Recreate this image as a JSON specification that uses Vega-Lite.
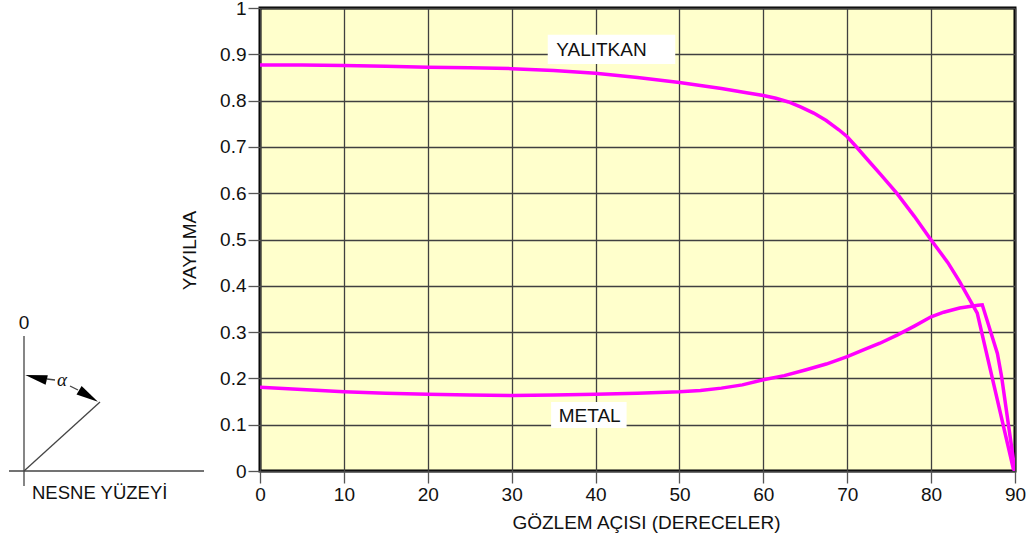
{
  "$schema": "https://vega.github.io/schema/vega-lite/v6.json",
  "padding": {"left": 0, "top": -3, "right": 0, "bottom": 0},
  "background": "white",
  "config": {"font": "Liberation Sans", "view": {"stroke": null}},
  "spacing": 50,
  "bounds": "flush",
  "datasets": {
    "egriler": [
      {"seri": "YALITKAN", "aci": 0, "yayilma": 0.877},
      {"seri": "YALITKAN", "aci": 5, "yayilma": 0.877},
      {"seri": "YALITKAN", "aci": 10, "yayilma": 0.876},
      {"seri": "YALITKAN", "aci": 15, "yayilma": 0.874},
      {"seri": "YALITKAN", "aci": 20, "yayilma": 0.872},
      {"seri": "YALITKAN", "aci": 25, "yayilma": 0.871},
      {"seri": "YALITKAN", "aci": 30, "yayilma": 0.869},
      {"seri": "YALITKAN", "aci": 35, "yayilma": 0.865},
      {"seri": "YALITKAN", "aci": 40, "yayilma": 0.859},
      {"seri": "YALITKAN", "aci": 45, "yayilma": 0.85},
      {"seri": "YALITKAN", "aci": 50, "yayilma": 0.839},
      {"seri": "YALITKAN", "aci": 55, "yayilma": 0.826},
      {"seri": "YALITKAN", "aci": 58, "yayilma": 0.817},
      {"seri": "YALITKAN", "aci": 60, "yayilma": 0.811},
      {"seri": "YALITKAN", "aci": 61.5, "yayilma": 0.805},
      {"seri": "YALITKAN", "aci": 63, "yayilma": 0.797},
      {"seri": "YALITKAN", "aci": 64.5, "yayilma": 0.786},
      {"seri": "YALITKAN", "aci": 66, "yayilma": 0.773},
      {"seri": "YALITKAN", "aci": 67.5, "yayilma": 0.757},
      {"seri": "YALITKAN", "aci": 69, "yayilma": 0.737},
      {"seri": "YALITKAN", "aci": 70, "yayilma": 0.722},
      {"seri": "YALITKAN", "aci": 71, "yayilma": 0.702},
      {"seri": "YALITKAN", "aci": 72.3, "yayilma": 0.675},
      {"seri": "YALITKAN", "aci": 74, "yayilma": 0.64},
      {"seri": "YALITKAN", "aci": 75.9, "yayilma": 0.6},
      {"seri": "YALITKAN", "aci": 78, "yayilma": 0.55},
      {"seri": "YALITKAN", "aci": 80, "yayilma": 0.499},
      {"seri": "YALITKAN", "aci": 82, "yayilma": 0.45},
      {"seri": "YALITKAN", "aci": 83.4, "yayilma": 0.409},
      {"seri": "YALITKAN", "aci": 85.5, "yayilma": 0.341},
      {"seri": "YALITKAN", "aci": 89.8, "yayilma": 0.005},
      {"seri": "YALITKAN", "aci": 90, "yayilma": 0},
      {"seri": "METAL", "aci": 0, "yayilma": 0.181},
      {"seri": "METAL", "aci": 5, "yayilma": 0.176},
      {"seri": "METAL", "aci": 10, "yayilma": 0.171},
      {"seri": "METAL", "aci": 15, "yayilma": 0.168},
      {"seri": "METAL", "aci": 20, "yayilma": 0.166},
      {"seri": "METAL", "aci": 25, "yayilma": 0.164},
      {"seri": "METAL", "aci": 30, "yayilma": 0.163},
      {"seri": "METAL", "aci": 35, "yayilma": 0.164},
      {"seri": "METAL", "aci": 40, "yayilma": 0.166},
      {"seri": "METAL", "aci": 45, "yayilma": 0.168},
      {"seri": "METAL", "aci": 50, "yayilma": 0.171},
      {"seri": "METAL", "aci": 52.5, "yayilma": 0.174},
      {"seri": "METAL", "aci": 55, "yayilma": 0.179},
      {"seri": "METAL", "aci": 57.5, "yayilma": 0.186},
      {"seri": "METAL", "aci": 60, "yayilma": 0.197},
      {"seri": "METAL", "aci": 62.5, "yayilma": 0.206},
      {"seri": "METAL", "aci": 65, "yayilma": 0.218},
      {"seri": "METAL", "aci": 67.5, "yayilma": 0.231},
      {"seri": "METAL", "aci": 70, "yayilma": 0.247},
      {"seri": "METAL", "aci": 72, "yayilma": 0.262},
      {"seri": "METAL", "aci": 73.9, "yayilma": 0.276},
      {"seri": "METAL", "aci": 76, "yayilma": 0.294},
      {"seri": "METAL", "aci": 78, "yayilma": 0.313},
      {"seri": "METAL", "aci": 80, "yayilma": 0.333},
      {"seri": "METAL", "aci": 81.5, "yayilma": 0.343},
      {"seri": "METAL", "aci": 83.4, "yayilma": 0.352},
      {"seri": "METAL", "aci": 85.6, "yayilma": 0.358},
      {"seri": "METAL", "aci": 86.1, "yayilma": 0.359},
      {"seri": "METAL", "aci": 87.9, "yayilma": 0.254},
      {"seri": "METAL", "aci": 88.4, "yayilma": 0.204},
      {"seri": "METAL", "aci": 90, "yayilma": 0}
    ],
    "etiket": [
      {"metin": "YALITKAN", "x": 40.7, "y": 0.91, "x0": 34.3, "x1": 49.5, "y0": 0.879, "y1": 0.942},
      {"metin": "METAL", "x": 39.3, "y": 0.119, "x0": 34.7, "x1": 43.7, "y0": 0.093, "y1": 0.149}
    ],
    "cizgi": [
      {"parca": "yuzey", "x1": -0.15, "y1": 0, "x2": 1.8, "y2": 0},
      {"parca": "normal", "x1": 0, "y1": 1.35, "x2": 0, "y2": -0.15},
      {"parca": "gozlem", "x1": 0, "y1": 0, "x2": 0.76, "y2": 0.69},
      {"parca": "yay1", "x1": 0.23, "y1": 0.92, "x2": 0.31, "y2": 0.91},
      {"parca": "yay2", "x1": 0.46, "y1": 0.85, "x2": 0.54, "y2": 0.81}
    ],
    "ok1": [{"x": 0.12, "y": 0.935}],
    "ok2": [{"x": 0.645, "y": 0.75}],
    "yazi": [
      {"tur": "sifir", "metin": "0", "x": 0, "y": 1.48},
      {"tur": "alfa", "metin": "α", "x": 0.38, "y": 0.91},
      {"tur": "yuzey", "metin": "NESNE YÜZEYİ", "x": 0.08, "y": -0.22}
    ]
  },
  "hconcat": [
    {
      "width": 210,
      "height": 463,
      "view": {"stroke": null},
      "layer": [
        {
          "data": {"name": "cizgi"},
          "mark": {"type": "rule", "color": "#444", "strokeWidth": 1.3},
          "encoding": {
            "x": {"field": "x1", "type": "quantitative", "scale": {"domain": [-0.24, 1.86], "nice": false, "zero": false}, "axis": null},
            "x2": {"field": "x2"},
            "y": {"field": "y1", "type": "quantitative", "scale": {"domain": [0, 4.63], "nice": false, "zero": false}, "axis": null},
            "y2": {"field": "y2"}
          }
        },
        {
          "data": {"name": "ok1"},
          "mark": {"type": "point", "shape": "M-1,0L1,-0.45L1,0.45Z", "filled": true, "color": "#000", "opacity": 1, "size": 484, "angle": 13},
          "encoding": {
            "x": {"field": "x", "type": "quantitative"},
            "y": {"field": "y", "type": "quantitative"}
          }
        },
        {
          "data": {"name": "ok2"},
          "mark": {"type": "point", "shape": "M-1,0L1,-0.45L1,0.45Z", "filled": true, "color": "#000", "opacity": 1, "size": 484, "angle": 211},
          "encoding": {
            "x": {"field": "x", "type": "quantitative"},
            "y": {"field": "y", "type": "quantitative"}
          }
        },
        {
          "data": {"name": "yazi"},
          "transform": [{"filter": "datum.tur === 'sifir'"}],
          "mark": {"type": "text", "fontSize": 19, "color": "#111", "align": "center", "baseline": "middle"},
          "encoding": {
            "x": {"field": "x", "type": "quantitative"},
            "y": {"field": "y", "type": "quantitative"},
            "text": {"field": "metin"}
          }
        },
        {
          "data": {"name": "yazi"},
          "transform": [{"filter": "datum.tur === 'alfa'"}],
          "mark": {"type": "text", "font": "Liberation Serif", "fontStyle": "italic", "fontSize": 19, "color": "#111", "align": "center", "baseline": "middle"},
          "encoding": {
            "x": {"field": "x", "type": "quantitative"},
            "y": {"field": "y", "type": "quantitative"},
            "text": {"field": "metin"}
          }
        },
        {
          "data": {"name": "yazi"},
          "transform": [{"filter": "datum.tur === 'yuzey'"}],
          "mark": {"type": "text", "fontSize": 18.5, "color": "#111", "align": "left", "baseline": "middle"},
          "encoding": {
            "x": {"field": "x", "type": "quantitative"},
            "y": {"field": "y", "type": "quantitative"},
            "text": {"field": "metin"}
          }
        }
      ]
    },
    {
      "width": 755,
      "height": 463,
      "view": {"fill": "#FFFFCC", "stroke": "#000", "strokeWidth": 3},
      "layer": [
        {
          "data": {"name": "egriler"},
          "mark": {"type": "line", "color": "#FF00FF", "strokeWidth": 3.5, "clip": true},
          "encoding": {
            "x": {
              "field": "aci", "type": "quantitative",
              "scale": {"domain": [0, 90], "nice": false},
              "axis": {
                "values": [0, 10, 20, 30, 40, 50, 60, 70, 80, 90],
                "title": "GÖZLEM AÇISI (DERECELER)",
                "grid": true, "gridColor": "#404040", "gridWidth": 1.3, "gridOpacity": 1,
                "domain": false,
                "tickColor": "#555", "tickSize": 12, "tickWidth": 1.3,
                "labelFontSize": 19, "labelColor": "#111", "labelPadding": 2,
                "labelFlush": false, "labelOverlap": false,
                "titleFontSize": 19, "titleFontWeight": "normal", "titleColor": "#111",
                "titlePadding": 9, "titleX": 386
              }
            },
            "y": {
              "field": "yayilma", "type": "quantitative",
              "scale": {"domain": [0, 1], "nice": false},
              "axis": {
                "values": [0, 0.1, 0.2, 0.3, 0.4, 0.5, 0.6, 0.7, 0.8, 0.9, 1],
                "format": "~g",
                "title": "YAYILMA",
                "grid": true, "gridColor": "#404040", "gridWidth": 1.3, "gridOpacity": 1,
                "domain": false,
                "tickColor": "#555", "tickSize": 12, "tickWidth": 1.3,
                "labelFontSize": 19, "labelColor": "#111", "labelPadding": 2,
                "labelFlush": false, "labelOverlap": false,
                "titleFontSize": 19, "titleFontWeight": "normal", "titleColor": "#111",
                "titlePadding": 20, "titleY": 242
              }
            },
            "detail": {"field": "seri"}
          }
        },
        {
          "data": {"name": "etiket"},
          "mark": {"type": "rect", "fill": "white"},
          "encoding": {
            "x": {"field": "x0", "type": "quantitative"},
            "x2": {"field": "x1"},
            "y": {"field": "y0", "type": "quantitative"},
            "y2": {"field": "y1"}
          }
        },
        {
          "data": {"name": "etiket"},
          "mark": {"type": "text", "fontSize": 19, "color": "#111", "align": "center", "baseline": "middle"},
          "encoding": {
            "x": {"field": "x", "type": "quantitative"},
            "y": {"field": "y", "type": "quantitative"},
            "text": {"field": "metin"}
          }
        }
      ]
    }
  ]
}
